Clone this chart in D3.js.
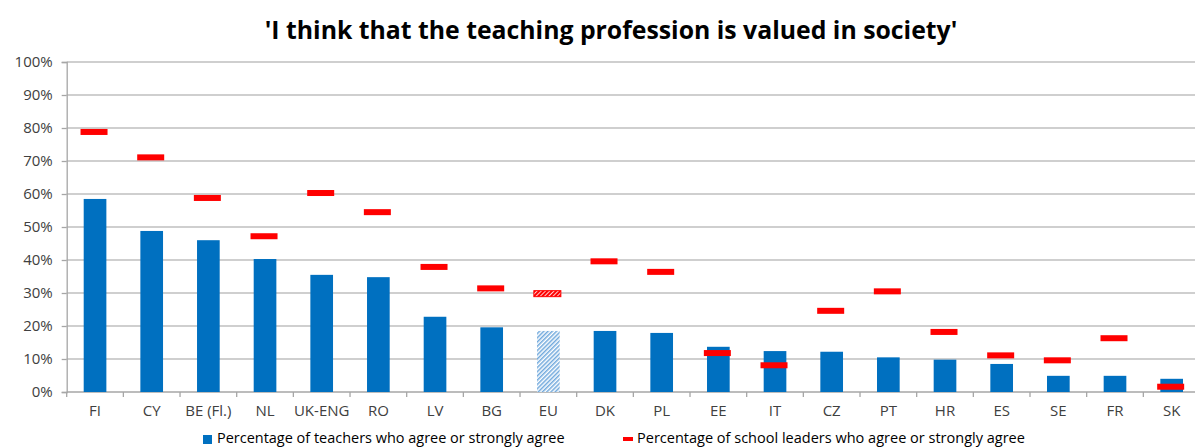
<!DOCTYPE html>
<html>
<head>
<meta charset="utf-8">
<script src="https://cdn.jsdelivr.net/npm/d3@7"></script>
<style>
  body { margin: 0; background: #fff; }
  svg text { font-family: "Open Sans", "Noto Sans", sans-serif; }
</style>
</head>
<body>
<div id="chart"></div>
<script>
const svgWidth = 1195;
const svgHeight = 448;

// Data
const countries = ["FI", "CY", "BE (Fl.)", "NL", "UK-ENG", "RO", "LV", "BG", "EU", "DK",
                   "PL", "EE", "IT", "CZ", "PT", "HR", "ES", "SE", "FR", "SK"];
const teachers = [58.5, 48.8, 46.0, 40.3, 35.5, 34.8, 22.8, 19.6, 18.5, 18.5,
                  17.9, 13.7, 12.4, 12.2, 10.5, 9.8, 8.5, 4.9, 4.9, 4.0];
const leaders = [78.8, 71.1, 58.8, 47.2, 60.3, 54.5, 37.9, 31.4, 29.8, 39.6,
                 36.4, 11.8, 8.1, 24.6, 30.5, 18.2, 11.1, 9.6, 16.3, 1.6];
const yTicks = [0, 10, 20, 30, 40, 50, 60, 70, 80, 90, 100];
const titleText = "'I think that the teaching profession is valued in society'";
const legendTeachers = "Percentage of teachers who agree or strongly agree";
const legendLeaders = "Percentage of school leaders who agree or strongly agree";

const plot = { left: 66.7, right: 1200, top: 62, bottom: 392 };

const svg = d3.select("#chart")
  .append("svg")
  .attr("width", svgWidth)
  .attr("height", svgHeight);

// hatch patterns for the EU average
const defs = svg.append("defs");
const barHatch = defs.append("pattern")
  .attr("id", "barHatch")
  .attr("patternUnits", "userSpaceOnUse")
  .attr("width", 3).attr("height", 3)
  .attr("patternTransform", "rotate(45)");
barHatch.append("rect").attr("width", 3).attr("height", 3).attr("fill", "#ffffff");
barHatch.append("rect").attr("width", 1.5).attr("height", 3).attr("fill", "#6fa8dc");

const markHatch = defs.append("pattern")
  .attr("id", "markHatch")
  .attr("patternUnits", "userSpaceOnUse")
  .attr("width", 3).attr("height", 3)
  .attr("patternTransform", "rotate(45)");
markHatch.append("rect").attr("width", 3).attr("height", 3).attr("fill", "#ff0000");
markHatch.append("rect").attr("width", 0.8).attr("height", 3).attr("fill", "#ffffff");

// scales
const x = d3.scaleBand()
  .domain(countries)
  .range([plot.left, plot.right])
  .paddingInner(0.6)
  .paddingOuter(0.3);

const y = d3.scaleLinear()
  .domain([0, 100])
  .range([plot.bottom, plot.top]);

// gridlines
svg.append("g")
  .selectAll("line")
  .data(yTicks.filter(d => d > 0))
  .enter()
  .append("line")
  .attr("x1", plot.left)
  .attr("x2", svgWidth)
  .attr("y1", d => y(d))
  .attr("y2", d => y(d))
  .attr("stroke", "#bfbfbf")
  .attr("stroke-width", 1.3);

// y axis
const yAxis = svg.append("g")
  .attr("transform", `translate(${plot.left}, 0)`)
  .call(d3.axisLeft(y).tickValues(yTicks).tickFormat(d => d + "%").tickSize(5).tickPadding(9));
yAxis.select(".domain").attr("stroke", "#a6a6a6").attr("stroke-width", 1.3);
yAxis.selectAll(".tick line").attr("stroke", "#a6a6a6").attr("stroke-width", 1.3);
yAxis.selectAll("text")
  .attr("fill", "#404040")
  .style("font-size", "15px")
  .style("font-family", "'Open Sans', sans-serif");

// x axis: line, boundary ticks, labels
const xAxis = svg.append("g");
xAxis.append("line")
  .attr("x1", plot.left).attr("x2", svgWidth)
  .attr("y1", plot.bottom).attr("y2", plot.bottom)
  .attr("stroke", "#a6a6a6").attr("stroke-width", 1.3);

const gap = (x.step() - x.bandwidth()) / 2;
xAxis.selectAll(".xtick")
  .data(countries)
  .enter()
  .append("line")
  .attr("class", "xtick")
  .attr("x1", d => x(d) - gap)
  .attr("x2", d => x(d) - gap)
  .attr("y1", plot.bottom)
  .attr("y2", plot.bottom + 5)
  .attr("stroke", "#a6a6a6").attr("stroke-width", 1.3);

xAxis.selectAll(".xlabel")
  .data(countries)
  .enter()
  .append("text")
  .attr("class", "xlabel")
  .attr("x", d => x(d) + x.bandwidth() / 2)
  .attr("y", 416)
  .attr("text-anchor", "middle")
  .attr("fill", "#404040")
  .style("font-size", "15px")
  .text(d => d);

// teacher bars
svg.append("g")
  .selectAll("rect")
  .data(countries)
  .enter()
  .append("rect")
  .attr("x", d => x(d))
  .attr("y", (d, i) => y(teachers[i]))
  .attr("width", x.bandwidth())
  .attr("height", (d, i) => y(0) - y(teachers[i]))
  .attr("fill", d => d === "EU" ? "url(#barHatch)" : "#0070c0");

// school leader markers
const markW = 27, markH = 6;
svg.append("g")
  .selectAll("rect")
  .data(countries)
  .enter()
  .append("rect")
  .attr("x", d => x(d) + x.bandwidth() / 2 - markW / 2 - 1)
  .attr("y", (d, i) => y(leaders[i]) - markH / 2)
  .attr("width", markW)
  .attr("height", markH)
  .attr("fill", d => d === "EU" ? "url(#markHatch)" : "#ff0000")
  .attr("stroke", d => d === "EU" ? "#ff0000" : "none")
  .attr("stroke-width", 1);

// title, fitted to the width it takes in the picture
const title = svg.append("text")
  .attr("x", 611)
  .attr("y", 39)
  .attr("text-anchor", "middle")
  .attr("fill", "#000")
  .style("font-size", "24px")
  .style("font-weight", "bold")
  .text(titleText);
const tw = title.node().getComputedTextLength();
title.style("font-size", (24 * 693 / tw).toFixed(2) + "px");

// legend
function fitText(sel, size, target) {
  const w = sel.node().getComputedTextLength();
  sel.style("font-size", (size * target / w).toFixed(2) + "px");
}

const legend = svg.append("g");
legend.append("rect")
  .attr("x", 203).attr("y", 435)
  .attr("width", 9).attr("height", 9)
  .attr("fill", "#0070c0");
const lt1 = legend.append("text")
  .attr("x", 217).attr("y", 443)
  .attr("fill", "#000")
  .style("font-size", "15px")
  .text(legendTeachers);
fitText(lt1, 15, 348);

legend.append("rect")
  .attr("x", 623).attr("y", 437)
  .attr("width", 10).attr("height", 4)
  .attr("fill", "#ff0000");
const lt2 = legend.append("text")
  .attr("x", 637).attr("y", 443)
  .attr("fill", "#000")
  .style("font-size", "15px")
  .text(legendLeaders);
fitText(lt2, 15, 388);
</script>
</body>
</html>
